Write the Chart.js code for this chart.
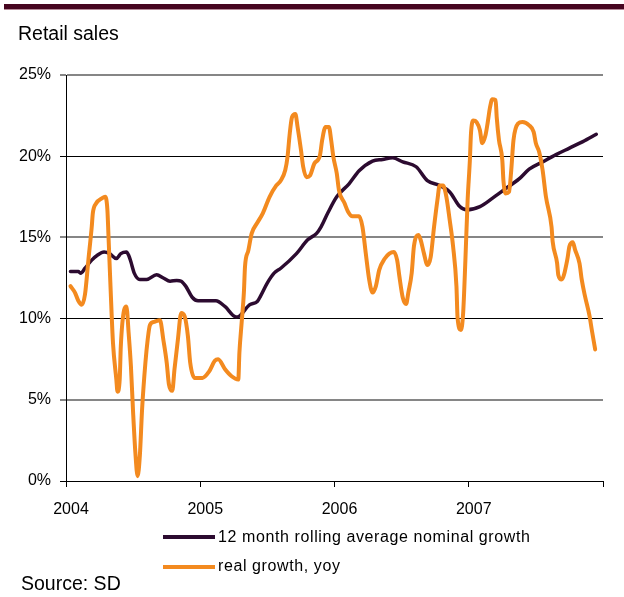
<!DOCTYPE html>
<html>
<head>
<meta charset="utf-8">
<script src="https://cdn.jsdelivr.net/npm/chart.js@4.4.1/dist/chart.umd.min.js"></script>
<style>
  body { margin: 0; background: #fff; font-family: "Liberation Sans", Arial, sans-serif; }
  #wrap { position: relative; width: 624px; height: 597px; overflow: hidden; }
  #topbar { position: absolute; left: 4px; top: 4px; width: 620px; height: 5px; background: #470620; border-bottom: 1px solid #b48a98; }
  .txt { position: absolute; line-height: 1; white-space: nowrap; color: #000; }
  #title { left: 18px; top: 23.5px; font-size: 19.5px; }
  #source { left: 21px; top: 574px; font-size: 19.5px; }
  .leg { position: absolute; left: 163px; width: 52px; height: 4px; }
  .legtxt { left: 218px; font-size: 16px; letter-spacing: 0.6px; }
  #chartBox { position: absolute; left: 0; top: 0; width: 624px; height: 597px; }
</style>
</head>
<body>
<div id="wrap">
  <div id="chartBox"><canvas id="myChart"></canvas></div>
  <div id="topbar"></div>
  <div id="title" class="txt">Retail sales</div>
  <div class="leg" style="top:535px;background:#2c0b30"></div>
  <div class="txt legtxt" style="top:529px">12 month rolling average nominal growth</div>
  <div class="leg" style="top:565px;background:#f38a1f"></div>
  <div class="txt legtxt" style="top:558px">real growth, yoy</div>
  <div id="source" class="txt">Source: SD</div>
</div>
<script>
// x values are months since Jan 2004
const yearLabels = ['2004', '2005', '2006', '2007'];

const nominalMonths = [0.4,1.1,1.3,1.7,2.3,2.8,3.4,3.9,4.5,4.9,5.4,5.6,5.8,6.1,6.6,7.2,8.1,8.7,9.3,9.9,
    10.3,10.7,11.3,11.8,13.4,14.2,15.2,15.5,16.4,17.1,17.4,18.0,18.6,19.2,20.6,21.6,22.4,22.8,23.4,24.2,
    25.3,26.2,27.4,28.3,29.2,30.1,31.3,32.3,33.4,34.3,35.2,35.8,37.0,38.1,39.3,40.5,41.4,42.6,43.8,45.0,46.2,47.4];
const nominalGrowth = [12.9,12.9,12.8,13.1,13.6,13.9,14.1,14.0,13.7,14.0,14.1,13.9,13.5,12.8,12.4,12.4,12.7,12.5,12.3,12.35,
    12.3,12.0,11.3,11.1,11.1,10.75,10.1,10.15,10.85,11.05,11.4,12.2,12.8,13.1,14.0,14.85,15.25,15.65,16.5,17.5,
    18.3,19.1,19.7,19.8,19.9,19.65,19.35,18.5,18.2,17.8,16.9,16.7,16.9,17.4,18.0,18.6,19.2,19.65,20.1,20.5,20.9,21.35];

const realMonths = [0.4,0.8,1.1,1.4,1.7,2.0,2.3,2.4,2.7,3.2,3.5,3.7,3.8,4.0,4.2,4.5,4.6,4.8,4.9,5.2,
    5.4,5.6,5.8,6.0,6.2,6.4,6.6,6.8,7.1,7.3,7.5,7.9,8.4,8.7,9.0,9.2,9.5,9.7,10.0,10.3,
    10.6,10.9,11.1,11.5,12.2,12.8,13.3,13.6,14.2,14.8,15.4,15.5,15.7,15.9,16.0,16.3,16.6,17.1,17.6,18.2,
    18.8,19.2,19.6,19.8,20.0,20.2,20.5,20.7,21.0,21.2,21.5,21.8,22.2,22.7,22.9,23.2,23.5,23.7,23.9,24.2,
    24.4,24.9,25.2,25.6,26.2,26.5,26.8,27.1,27.4,27.7,28.0,28.5,28.9,29.3,29.6,29.8,30.1,30.4,30.6,30.9,
    31.1,31.5,31.7,32.0,32.3,32.6,32.9,33.2,33.4,33.7,34.0,34.3,34.6,34.9,35.0,35.3,35.5,35.7,35.9,36.1,
    36.2,36.4,36.7,37.0,37.2,37.5,37.7,37.9,38.1,38.4,38.5,38.7,39.0,39.1,39.3,39.6,39.8,40.0,40.4,40.8,
    41.4,41.8,42.0,42.3,42.6,42.9,43.4,43.5,43.9,44.0,44.3,44.8,45.0,45.3,45.5,45.9,46.1,46.4,46.8,47.0,47.3];
const realGrowth = [12.0,11.6,11.1,10.85,11.5,13.6,15.65,16.5,17.1,17.4,17.5,16.7,15.05,11.6,8.5,6.25,5.5,6.25,8.3,10.55,
    10.75,9.1,7.1,4.2,1.75,0.3,1.55,4.4,7.3,8.7,9.6,9.8,9.9,8.7,7.3,5.95,5.55,6.9,8.7,10.35,
    10.15,8.9,7.3,6.35,6.35,6.75,7.4,7.5,6.9,6.45,6.25,7.9,9.75,11.6,13.2,14.2,15.25,15.9,16.5,17.5,
    18.2,18.5,19.15,19.95,21.4,22.4,22.6,21.8,20.4,19.35,18.7,18.8,19.55,20.05,21.0,21.8,21.8,21.0,19.95,18.95,
    17.9,17.1,16.6,16.3,16.3,15.65,14.0,12.4,11.6,12.0,13.0,13.7,14.0,14.1,13.6,12.6,11.3,10.9,11.6,12.8,
    14.45,15.15,14.85,14.0,13.3,13.8,15.65,17.3,18.2,18.2,17.5,16.05,14.45,12.0,10.05,9.3,10.35,13.6,17.3,19.75,
    21.4,22.2,22.1,21.6,20.8,21.3,22.1,23.0,23.5,23.45,22.4,21.0,19.75,18.5,17.7,17.8,19.15,21.0,22.0,22.1,
    21.9,21.5,20.8,20.25,19.15,17.5,15.65,14.75,13.4,12.7,12.4,13.6,14.45,14.7,14.25,13.4,12.4,11.35,10.15,9.3,8.1];

const toPoints = (xs, ys) => xs.map((x, i) => ({ x: x, y: ys[i] }));

const data = {
    datasets: [
        {
            label: 'real growth, yoy',
            data: toPoints(realMonths, realGrowth),
            borderColor: '#f38a1f',
            borderWidth: 4,
            order: 0
        },
        {
            label: '12 month rolling average nominal growth',
            data: toPoints(nominalMonths, nominalGrowth),
            borderColor: '#2c0b30',
            borderWidth: 3.5,
            order: 1
        }
    ]
};

const config = {
    type: 'line',
    data: data,
    options: {
        responsive: true,
        maintainAspectRatio: false,
        animation: false,
        layout: { padding: { left: 0, top: 75, right: 21, bottom: 76 } },
        elements: {
            point: { radius: 0 },
            line: { cubicInterpolationMode: 'monotone', borderJoinStyle: 'round', borderCapStyle: 'round' }
        },
        plugins: {
            legend: { display: false },
            title: { display: false },
            tooltip: { enabled: false }
        },
        scales: {
            x: {
                type: 'linear',
                min: 0,
                max: 48,
                afterFit: (s) => { s.height = 40; },
                border: { color: '#000', width: 1 },
                grid: { drawOnChartArea: false, drawTicks: true, tickLength: 6, color: '#000' },
                ticks: {
                    stepSize: 12,
                    padding: 13,
                    labelOffset: 5,
                    color: '#000',
                    font: { family: '"Liberation Sans", Arial, sans-serif', size: 16 },
                    maxRotation: 0,
                    callback: (v) => yearLabels[v / 12] || ''
                }
            },
            y: {
                min: 0,
                max: 25,
                afterFit: (s) => { s.width = 66; },
                border: { color: '#000', width: 1 },
                grid: {
                    tickLength: 6,
                    color: (c) => (c.tick && c.tick.value % 10 === 5) ? '#868686' : '#000',
                    lineWidth: (c) => (c.tick && c.tick.value % 10 === 5) ? 2 : 1
                },
                ticks: {
                    stepSize: 5,
                    padding: 9,
                    color: '#000',
                    font: { family: '"Liberation Sans", Arial, sans-serif', size: 16 },
                    callback: (v) => v + '%'
                }
            }
        }
    }
};

const myChart = new Chart(document.getElementById('myChart'), config);
</script>
</body>
</html>
